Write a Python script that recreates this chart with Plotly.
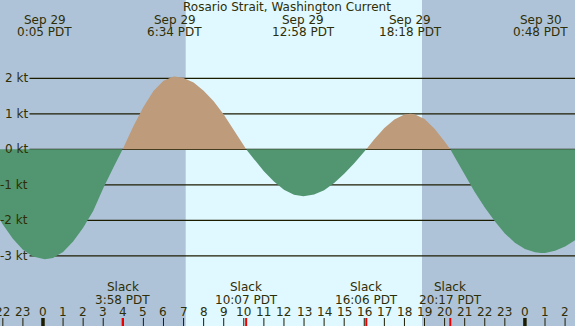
import plotly.graph_objects as go

# ---------------- data ----------------
title = "Rosario Strait, Washington Current"

# hours since midnight Sep 29 (PDT) and current speed in knots
times = [-2.5, -2.0, -1.5, -1.0, -0.5, 0.083, 0.5, 1.0, 1.5, 2.0, 2.5, 3.0, 3.5,
         3.967, 4.5, 5.0, 5.5, 6.0, 6.5, 6.567, 7.0, 7.5, 8.0, 8.5, 9.0, 9.5, 10.0,
         10.117, 10.5, 11.0, 11.5, 12.0, 12.5, 12.967, 13.5, 14.0, 14.5, 15.0, 15.5, 16.0,
         16.1, 16.5, 17.0, 17.5, 18.0, 18.3, 18.5, 19.0, 19.5, 20.0,
         20.283, 20.5, 21.0, 21.5, 22.0, 22.5, 23.0, 23.5, 24.0, 24.5,
         24.8, 25.0, 25.5, 26.0, 26.5, 27.0]
speeds = [-1.64, -2.12, -2.52, -2.83, -3.02, -3.10, -3.06, -2.89, -2.60, -2.21, -1.74, -1.10, -0.52,
          0.0, 0.65, 1.19, 1.64, 1.93, 2.05, 2.05, 2.01, 1.88, 1.65, 1.35, 0.98, 0.56, 0.11,
          0.0, -0.27, -0.62, -0.91, -1.14, -1.28, -1.32, -1.27, -1.15, -0.95, -0.69, -0.39, -0.07,
          0.0, 0.28, 0.60, 0.84, 0.98, 1.00, 0.99, 0.85, 0.58, 0.22,
          0.0, -0.22, -0.72, -1.20, -1.64, -2.03, -2.37, -2.63, -2.81, -2.90,
          -2.92, -2.92, -2.86, -2.74, -2.56, -2.33]

extreme_times = [0.083, 6.567, 12.967, 18.3, 24.8]
extreme_dates = ["Sep 29", "Sep 29", "Sep 29", "Sep 29", "Sep 30"]
extreme_labels = ["0:05 PDT", "6:34 PDT", "12:58 PDT", "18:18 PDT", "0:48 PDT"]

slack_times = [3.967, 10.117, 16.1, 20.283]
slack_labels = ["3:58 PDT", "10:07 PDT", "16:06 PDT", "20:17 PDT"]

sunrise = 7.107
sunset = 18.875

hour_ticks = list(range(-2, 27))
hour_labels = ["22", "23", "0", "1", "2", "3", "4", "5", "6", "7", "8", "9", "10", "11", "12",
               "13", "14", "15", "16", "17", "18", "19", "20", "21", "22", "23", "0", "1", "2"]
midnights = [0, 24]

kt_values = [2, 1, 0, -1, -2, -3]
kt_labels = ["2 kt", "1 kt", "0 kt", "-1 kt", "-2 kt", "-3 kt"]

# ---------------- style ----------------
W, H = 575, 326
FONT = "DejaVu Sans"
TXT = "#2e2e05"
LINE = "#1c1c00"
NIGHT = "#afc3d8"
DAY = "#e0f8ff"
FLOOD = "#be9b7b"
EBB = "#519670"
XR = [-2.141, 26.494]
YR = [-4.977, 4.205]


def py(px):
    return 1 - px / H


pos = [max(v, 0) for v in speeds]
neg = [min(v, 0) for v in speeds]

fig = go.Figure()
fig.add_trace(go.Scatter(x=times, y=neg, mode="lines", line=dict(width=0),
                         fill="tozeroy", fillcolor=EBB, hoverinfo="skip", showlegend=False))
fig.add_trace(go.Scatter(x=times, y=pos, mode="lines", line=dict(width=0),
                         fill="tozeroy", fillcolor=FLOOD, hoverinfo="skip", showlegend=False))

shapes = []
# night / day backgrounds
shapes.append(dict(type="rect", xref="x", yref="paper", x0=XR[0] - 1, x1=sunrise, y0=0, y1=1,
                   fillcolor=NIGHT, line=dict(width=0), layer="below"))
shapes.append(dict(type="rect", xref="x", yref="paper", x0=sunrise, x1=sunset, y0=0, y1=1,
                   fillcolor=DAY, line=dict(width=0), layer="below"))
shapes.append(dict(type="rect", xref="x", yref="paper", x0=sunset, x1=XR[1] + 1, y0=0, y1=1,
                   fillcolor=NIGHT, line=dict(width=0), layer="below"))
# horizontal lines at each knot level
for v in kt_values:
    shapes.append(dict(type="line", xref="paper", yref="y", x0=29.5 / W, x1=1, y0=v, y1=v,
                       line=dict(color=LINE, width=1.3), layer="below"))
# hour ticks
for h in hour_ticks:
    wdt = 3.5 if h in midnights else 1
    shapes.append(dict(type="line", xref="x", yref="paper", x0=h, x1=h, y0=0, y1=8 / H,
                       line=dict(color=LINE, width=wdt), layer="above"))
# slack ticks
for t in slack_times:
    shapes.append(dict(type="line", xref="x", yref="paper", x0=t, x1=t, y0=0, y1=8 / H,
                       line=dict(color="#ee0000", width=2), layer="above"))

ann = []


def a(x, xref, y, yref, text, xanchor="center"):
    return dict(x=x, xref=xref, y=y, yref=yref, text=text, showarrow=False,
                font=dict(family=FONT, size=12, color=TXT), xanchor=xanchor, yanchor="middle")


ann.append(a(0.4985, "paper", py(7.0), "paper", title))
for t, d, l in zip(extreme_times, extreme_dates, extreme_labels):
    ann.append(a(t, "x", py(19.6), "paper", d))
    ann.append(a(t, "x", py(31.8), "paper", l))
for t, l in zip(slack_times, slack_labels):
    ann.append(a(t, "x", py(287.2), "paper", "Slack"))
    ann.append(a(t, "x", py(299.5), "paper", l))
for h, l in zip(hour_ticks, hour_labels):
    ann.append(a(h, "x", py(312.2), "paper", l))
for v, l in zip(kt_values, kt_labels):
    ann.append(a(29.5 / W, "paper", v, "y", l, xanchor="right"))

fig.update_layout(
    width=W, height=H, autosize=False,
    margin=dict(l=0, r=0, t=0, b=0, pad=0),
    paper_bgcolor=NIGHT, plot_bgcolor=NIGHT,
    xaxis=dict(range=XR, visible=False, fixedrange=True),
    yaxis=dict(range=YR, visible=False, fixedrange=True),
    shapes=shapes, annotations=ann, showlegend=False,
)

fig.write_html("out.html", config={"displayModeBar": False},
               post_script="document.body.style.margin='0';")
